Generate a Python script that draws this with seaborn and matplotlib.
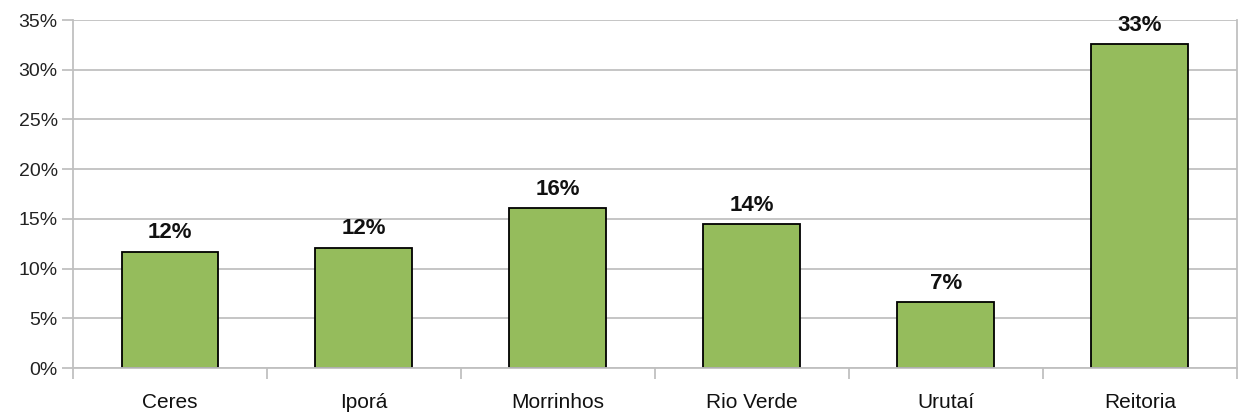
import numpy as np
import pandas as pd
import matplotlib
matplotlib.use("Agg")
import matplotlib.pyplot as plt
import seaborn as sns
from matplotlib.ticker import FixedLocator, PercentFormatter

campus = ["Ceres", "Iporá", "Morrinhos", "Rio Verde", "Urutaí", "Reitoria"]
percent = [11.7, 12.1, 16.1, 14.5, 6.6, 32.6]
bar_labels = ["12%", "12%", "16%", "14%", "7%", "33%"]

df = pd.DataFrame({"campus": campus, "percent": percent})

sns.set_style("white")
plt.rcParams["font.family"] = ["Liberation Sans", "DejaVu Sans"]

fig = plt.figure(figsize=(12.46, 4.17), dpi=100)
ax = fig.add_axes([0.0586, 0.1175, 0.934, 0.8345])

sns.barplot(data=df, x="campus", y="percent", color="#95BC5C",
            edgecolor="black", linewidth=1.3, width=0.5, saturation=1, ax=ax)

for i, (v, lab) in enumerate(zip(percent, bar_labels)):
    ax.annotate(lab, (i, v), xytext=(0, 6), textcoords="offset points",
                ha="center", va="bottom", fontsize=16, fontweight="bold",
                family=["Liberation Sans Narrow", "Liberation Sans"],
                color="#111111")

ax.set_ylim(0, 35)
ax.set_xlim(-0.5, len(campus) - 0.5)
ax.set_yticks(np.arange(0, 36, 5))
ax.yaxis.set_major_formatter(PercentFormatter(decimals=0))
ax.yaxis.grid(True, color="#c0c0c0", linewidth=1.3)
ax.set_axisbelow(True)

ax.xaxis.set_minor_locator(FixedLocator(np.arange(-0.5, len(campus), 1.0)))
ax.tick_params(axis="x", which="major", length=0, labelsize=15, pad=18,
               labelcolor="#111111")
ax.tick_params(axis="x", which="minor", length=8, width=1.3, color="#c0c0c0",
               bottom=True)
ax.tick_params(axis="y", length=8, width=1.3, color="#c0c0c0", left=True,
               labelsize=14, labelcolor="#222222", pad=3)

for side in ["left", "right", "bottom"]:
    ax.spines[side].set_color("#c0c0c0")
    ax.spines[side].set_linewidth(1.3)
ax.spines["top"].set_visible(False)

ax.set_xlabel("")
ax.set_ylabel("")

fig.savefig("out.png", dpi=100)
